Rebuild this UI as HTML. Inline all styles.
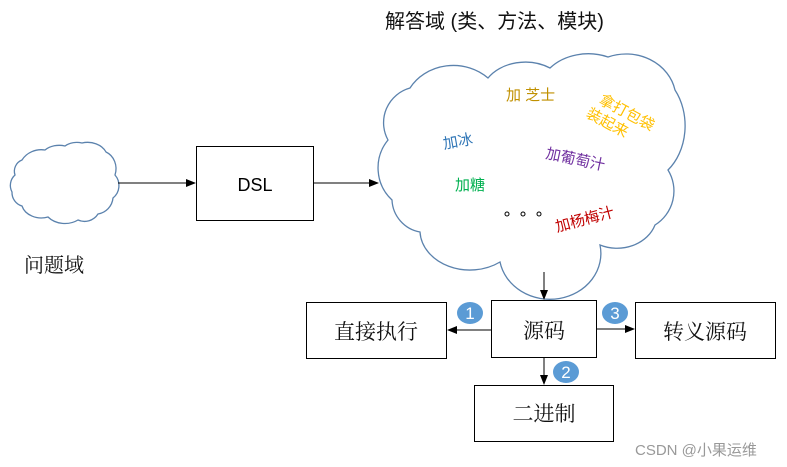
<!DOCTYPE html>
<html><head><meta charset="utf-8"><style>
html,body{margin:0;padding:0;background:#fff;}
svg{display:block;}
text{font-family:"Liberation Sans","Noto Sans CJK SC",sans-serif;}
.s{font-family:"Liberation Serif","Noto Serif CJK SC",serif;}
</style></head><body>
<svg width="787" height="467" viewBox="0 0 787 467" xmlns="http://www.w3.org/2000/svg">
<defs><marker id="a" markerWidth="10" markerHeight="8" refX="9" refY="4" orient="auto" markerUnits="userSpaceOnUse"><path d="M0,0 L10,4 L0,8 Z" fill="#000"/></marker></defs>
<text x="385" y="28" font-size="20" fill="#111">解答域 (类、方法、模块)</text>
<path d="M15,175 A12,12 0 0 1 22,160 A22,20 0 0 1 45,150 A20,16 0 0 1 65,146 A18,14 0 0 1 82,143 A20,16 0 0 1 106,152 A16,18 0 0 1 115,175 A16,16 0 0 1 113,198 A18,18 0 0 1 98,214 A16,16 0 0 1 78,220 A22,18 0 0 1 48,217 A20,16 0 0 1 22,206 A14,14 0 0 1 12,192 A14,14 0 0 1 15,175 Z" fill="#fff" stroke="#5b82ad" stroke-width="1.3"/>
<text x="24" y="272" font-size="20" fill="#111" class="s">问题域</text>
<line x1="118" y1="183" x2="195" y2="183" stroke="#000" stroke-width="1" marker-end="url(#a)"/>
<rect x="196.5" y="146.5" width="117" height="74" fill="#fff" stroke="#000"/>
<text x="255" y="191" font-size="18" text-anchor="middle" fill="#000">DSL</text>
<line x1="314" y1="183" x2="378" y2="183" stroke="#000" stroke-width="1" marker-end="url(#a)"/>
<path d="M388,140 A36,36 0 0 1 410,88 A50,45 0 0 1 488,78 A44,34 0 0 1 550,68 A50,40 0 0 1 608,57 A50,45 0 0 1 675,90 A44,56 0 0 1 668,170 A40,40 0 0 1 655,225 A40,34 0 0 1 600,245 A50,45 0 0 1 500,262 A50,40 0 0 1 420,232 A34,34 0 0 1 392,200 A44,44 0 0 1 388,140 Z" fill="#fff" stroke="#5b82ad" stroke-width="1.3"/>
<text x="506" y="100" font-size="15" fill="#c09000">加 芝士</text>
<g transform="translate(598,103) rotate(28)" font-size="15" fill="#ffc000"><text x="0" y="0">拿打包袋</text><text x="-5" y="18">装起来</text></g>
<text x="444" y="149" font-size="15" fill="#2e75b6" transform="rotate(-10 444 149)">加冰</text>
<text x="545" y="158" font-size="15" fill="#7030a0" transform="rotate(12 545 158)">加葡萄汁</text>
<text x="455" y="190" font-size="15" fill="#00b050">加糖</text>
<g fill="none" stroke="#000" stroke-width="1"><circle cx="507" cy="214" r="2"/><circle cx="523" cy="214" r="2"/><circle cx="539" cy="214" r="2"/></g>
<text x="557" y="232" font-size="15" fill="#c00000" transform="rotate(-15 557 232)">加杨梅汁</text>
<line x1="544" y1="272" x2="544" y2="299" stroke="#000" marker-end="url(#a)"/>
<rect x="491.5" y="300.5" width="105" height="57" fill="#fff" stroke="#000"/>
<text x="544" y="338" font-size="21" text-anchor="middle" fill="#111" class="s">源码</text>
<rect x="306.5" y="302.5" width="140" height="56" fill="#fff" stroke="#000"/>
<text x="376" y="339" font-size="21" text-anchor="middle" fill="#111" class="s">直接执行</text>
<rect x="635.5" y="302.5" width="140" height="56" fill="#fff" stroke="#000"/>
<text x="705" y="339" font-size="21" text-anchor="middle" fill="#111" class="s">转义源码</text>
<rect x="474.5" y="385.5" width="139" height="56" fill="#fff" stroke="#000"/>
<text x="544" y="421" font-size="21" text-anchor="middle" fill="#111" class="s">二进制</text>
<line x1="491" y1="330" x2="448" y2="330" stroke="#000" marker-end="url(#a)"/>
<line x1="597" y1="329" x2="634" y2="329" stroke="#000" marker-end="url(#a)"/>
<line x1="544" y1="358" x2="544" y2="384" stroke="#000" marker-end="url(#a)"/>
<g font-size="17" fill="#fff" text-anchor="middle">
<ellipse cx="470" cy="313" rx="13" ry="11" fill="#5b9bd5"/><text x="470" y="319">1</text>
<ellipse cx="615" cy="313" rx="13" ry="11" fill="#5b9bd5"/><text x="615" y="319">3</text>
<ellipse cx="566" cy="372" rx="13" ry="11" fill="#5b9bd5"/><text x="566" y="378">2</text>
</g>
<text x="635" y="455" font-size="15" fill="#999">CSDN @小果运维</text>
</svg>
</body></html>
